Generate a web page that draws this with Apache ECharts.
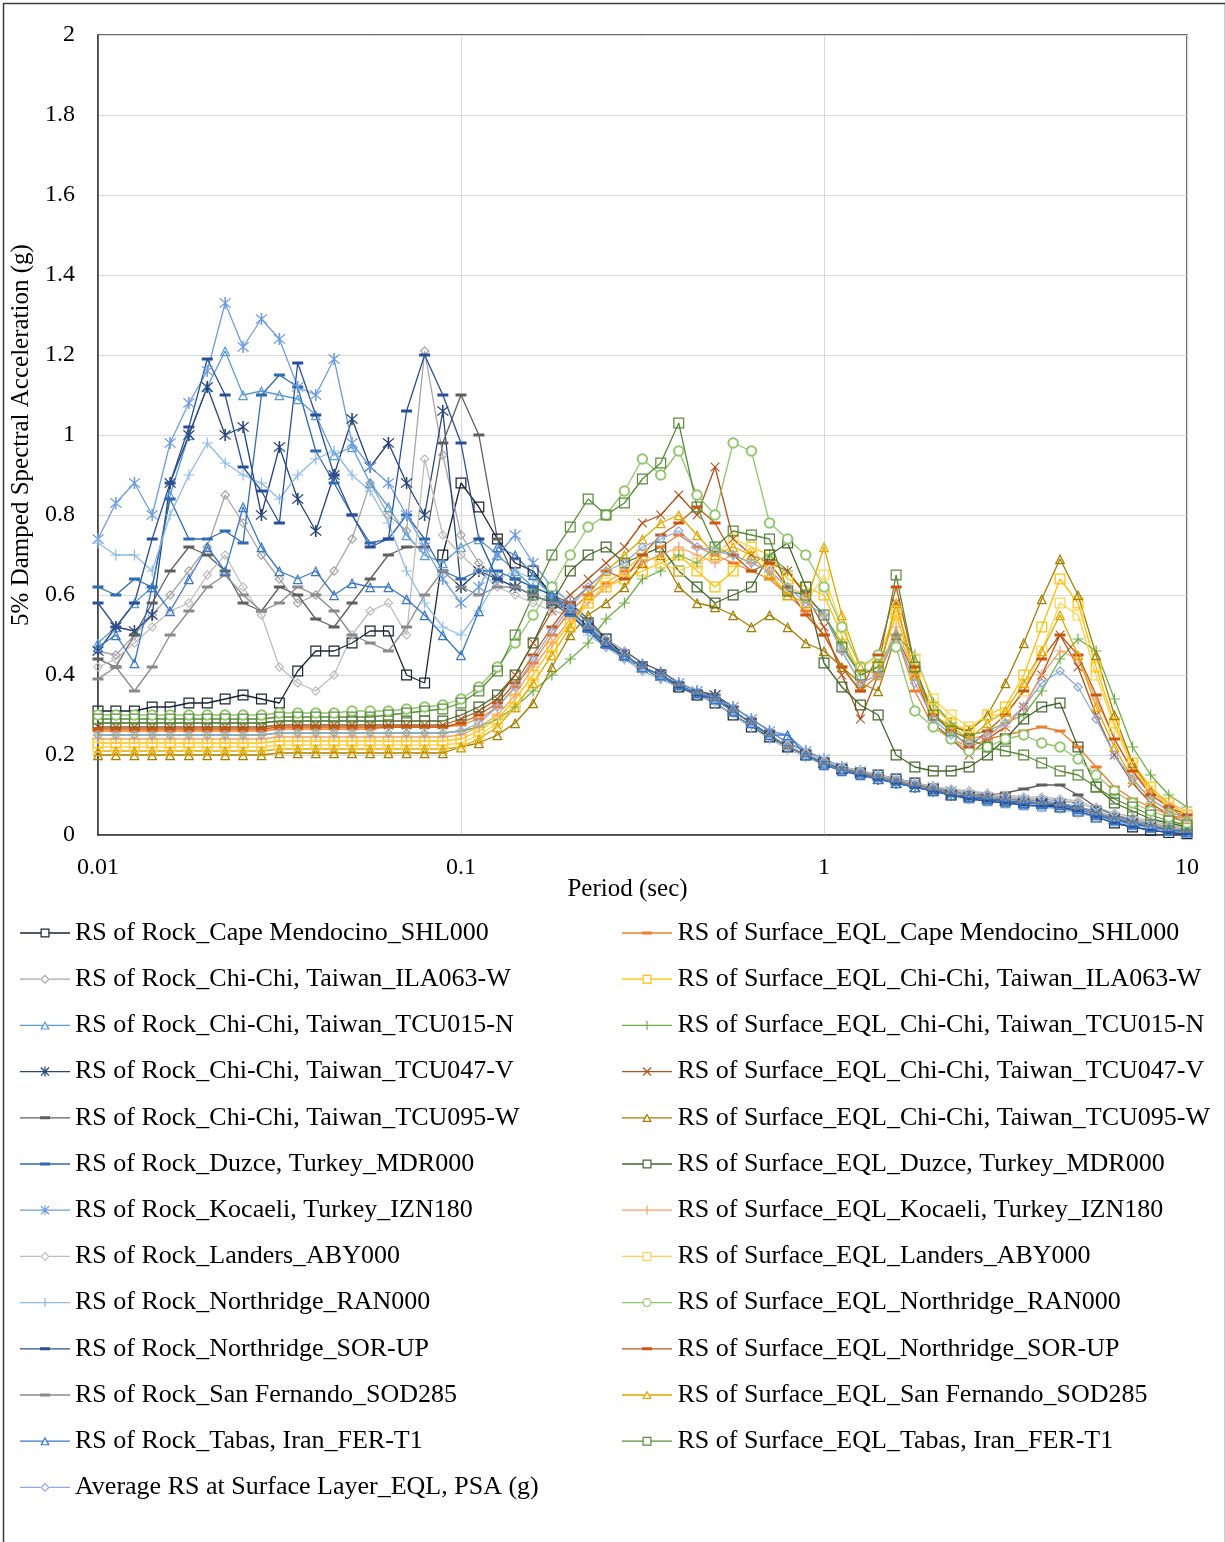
<!DOCTYPE html>
<html>
<head>
<meta charset="utf-8">
<script src="https://cdn.jsdelivr.net/npm/echarts@6/dist/echarts.min.js"></script>
<style>
html,body{margin:0;padding:0;background:#fff;}
#chart{width:1225px;height:1542px;}
</style>
</head>
<body>
<div id="chart"></div>
<script>
// ---------- DATA ----------
const periods = [0.01,0.0112,0.0126,0.0141,0.0158,0.0178,0.02,0.0224,0.0251,0.0282,0.0316,0.0355,0.0398,0.0447,0.0501,0.0562,0.0631,0.0708,0.0794,0.0891,0.1,0.112,0.126,0.141,0.158,0.178,0.2,0.224,0.251,0.282,0.316,0.355,0.398,0.447,0.501,0.562,0.631,0.708,0.794,0.891,1,1.12,1.26,1.41,1.58,1.78,2,2.24,2.51,2.82,3.16,3.55,3.98,4.47,5.01,5.62,6.31,7.08,7.94,8.91,10];

const xTickLabels = ['0.01','0.1','1','10'];
const yTickLabels = ['0','0.2','0.4','0.6','0.8','1','1.2','1.4','1.6','1.8','2'];

const rockNames = ['RS of Rock_Cape Mendocino_SHL000','RS of Rock_Chi-Chi, Taiwan_ILA063-W','RS of Rock_Chi-Chi, Taiwan_TCU015-N','RS of Rock_Chi-Chi, Taiwan_TCU047-V','RS of Rock_Chi-Chi, Taiwan_TCU095-W','RS of Rock_Duzce, Turkey_MDR000','RS of Rock_Kocaeli, Turkey_IZN180','RS of Rock_Landers_ABY000','RS of Rock_Northridge_RAN000','RS of Rock_Northridge_SOR-UP','RS of Rock_San Fernando_SOD285','RS of Rock_Tabas, Iran_FER-T1'];
const avgName = 'Average RS at Surface Layer_EQL, PSA (g)';
const surfNames = ['RS of Surface_EQL_Cape Mendocino_SHL000','RS of Surface_EQL_Chi-Chi, Taiwan_ILA063-W','RS of Surface_EQL_Chi-Chi, Taiwan_TCU015-N','RS of Surface_EQL_Chi-Chi, Taiwan_TCU047-V','RS of Surface_EQL_Chi-Chi, Taiwan_TCU095-W','RS of Surface_EQL_Duzce, Turkey_MDR000','RS of Surface_EQL_Kocaeli, Turkey_IZN180','RS of Surface_EQL_Landers_ABY000','RS of Surface_EQL_Northridge_RAN000','RS of Surface_EQL_Northridge_SOR-UP','RS of Surface_EQL_San Fernando_SOD285','RS of Surface_EQL_Tabas, Iran_FER-T1'];

// Rock outcrop spectra
const rockCape = [0.31,0.31,0.31,0.32,0.32,0.33,0.33,0.34,0.35,0.34,0.33,0.41,0.46,0.46,0.48,0.51,0.51,0.40,0.38,0.70,0.88,0.82,0.74,0.68,0.66,0.60,0.57,0.53,0.49,0.45,0.42,0.40,0.37,0.35,0.33,0.30,0.27,0.245,0.22,0.20,0.18,0.165,0.155,0.15,0.14,0.13,0.115,0.10,0.095,0.09,0.085,0.08,0.078,0.07,0.06,0.045,0.03,0.02,0.012,0.006,0.003];
const rockILA063 = [0.46,0.45,0.50,0.55,0.60,0.66,0.72,0.85,0.78,0.70,0.64,0.58,0.60,0.66,0.74,0.88,0.80,0.76,1.21,0.95,0.75,0.68,0.64,0.62,0.60,0.58,0.56,0.52,0.47,0.44,0.41,0.39,0.37,0.35,0.34,0.31,0.28,0.25,0.22,0.20,0.18,0.165,0.155,0.145,0.135,0.125,0.115,0.11,0.11,0.10,0.095,0.09,0.09,0.085,0.08,0.065,0.05,0.04,0.03,0.02,0.015];
const rockTCU015 = [0.48,0.52,0.58,0.62,0.85,1.00,1.12,1.21,1.10,1.11,1.10,1.09,1.05,0.95,0.97,0.88,0.82,0.75,0.70,0.68,0.72,0.74,0.70,0.66,0.62,0.60,0.57,0.53,0.49,0.46,0.43,0.41,0.38,0.36,0.35,0.32,0.29,0.26,0.25,0.21,0.18,0.17,0.155,0.145,0.135,0.12,0.11,0.10,0.092,0.085,0.08,0.075,0.072,0.068,0.06,0.045,0.035,0.025,0.018,0.01,0.006];
const rockTCU047 = [0.46,0.52,0.51,0.55,0.88,1.00,1.12,1.00,1.02,0.80,0.97,0.84,0.76,0.90,1.04,0.92,0.98,0.88,0.80,1.06,0.62,0.66,0.64,0.62,0.60,0.58,0.56,0.52,0.48,0.45,0.42,0.40,0.37,0.35,0.35,0.31,0.28,0.25,0.22,0.20,0.18,0.165,0.155,0.14,0.13,0.12,0.11,0.10,0.095,0.09,0.085,0.08,0.08,0.078,0.07,0.055,0.04,0.03,0.02,0.012,0.008];
const rockTCU095 = [0.44,0.42,0.50,0.58,0.66,0.72,0.70,0.66,0.58,0.56,0.62,0.60,0.54,0.52,0.58,0.64,0.70,0.72,0.72,0.98,1.10,1.00,0.74,0.64,0.62,0.60,0.58,0.54,0.49,0.46,0.43,0.41,0.38,0.36,0.35,0.32,0.29,0.26,0.23,0.21,0.19,0.17,0.16,0.15,0.14,0.13,0.12,0.11,0.10,0.10,0.105,0.115,0.125,0.125,0.10,0.07,0.05,0.035,0.025,0.015,0.01];
const rockDuzce = [0.62,0.60,0.64,0.62,0.84,0.74,0.74,0.76,0.73,1.10,1.15,1.12,0.96,0.88,0.80,0.73,0.74,0.80,0.74,0.66,0.64,0.66,0.66,0.64,0.62,0.60,0.55,0.51,0.48,0.44,0.42,0.39,0.37,0.355,0.33,0.30,0.275,0.25,0.22,0.20,0.18,0.16,0.15,0.14,0.13,0.12,0.11,0.10,0.095,0.09,0.085,0.082,0.08,0.075,0.065,0.05,0.038,0.028,0.02,0.012,0.008];
const rockKocaeli = [0.74,0.83,0.88,0.80,0.98,1.08,1.16,1.33,1.22,1.29,1.24,1.12,1.10,1.19,0.98,0.92,0.88,0.80,0.72,0.64,0.58,0.62,0.70,0.75,0.68,0.62,0.58,0.53,0.48,0.45,0.42,0.40,0.38,0.36,0.34,0.32,0.29,0.26,0.23,0.21,0.19,0.17,0.16,0.15,0.14,0.13,0.12,0.11,0.10,0.095,0.09,0.088,0.085,0.08,0.07,0.06,0.045,0.035,0.025,0.015,0.01];
const rockLanders = [0.42,0.44,0.48,0.52,0.56,0.58,0.65,0.70,0.62,0.55,0.42,0.38,0.36,0.40,0.50,0.56,0.58,0.50,0.94,0.75,0.70,0.66,0.62,0.60,0.58,0.56,0.55,0.52,0.49,0.46,0.41,0.39,0.37,0.35,0.335,0.31,0.28,0.25,0.225,0.205,0.185,0.17,0.16,0.15,0.14,0.13,0.12,0.115,0.11,0.105,0.10,0.095,0.095,0.09,0.085,0.07,0.055,0.045,0.035,0.025,0.018];
const rockRAN000 = [0.73,0.70,0.70,0.66,0.80,0.90,0.98,0.93,0.90,0.88,0.84,0.90,0.94,0.96,0.90,0.86,0.78,0.66,0.58,0.52,0.50,0.56,0.64,0.66,0.64,0.60,0.56,0.50,0.47,0.44,0.41,0.39,0.37,0.35,0.33,0.30,0.27,0.24,0.215,0.195,0.175,0.16,0.15,0.14,0.13,0.12,0.11,0.10,0.09,0.085,0.08,0.075,0.07,0.065,0.055,0.045,0.035,0.025,0.018,0.01,0.006];
const rockSORUP = [0.58,0.52,0.58,0.74,0.88,1.02,1.19,1.10,0.92,0.86,0.78,1.18,1.05,0.90,0.80,0.72,0.74,1.06,1.20,1.10,0.98,0.74,0.64,0.62,0.60,0.58,0.55,0.51,0.47,0.45,0.42,0.40,0.37,0.35,0.34,0.31,0.28,0.25,0.22,0.20,0.18,0.165,0.15,0.14,0.13,0.12,0.11,0.10,0.09,0.085,0.08,0.075,0.072,0.07,0.06,0.045,0.03,0.02,0.012,0.006,0.003];
const rockSanFernando = [0.39,0.42,0.36,0.42,0.50,0.56,0.62,0.65,0.60,0.56,0.58,0.62,0.60,0.56,0.50,0.48,0.46,0.52,0.60,0.66,0.62,0.60,0.62,0.62,0.60,0.58,0.56,0.52,0.48,0.45,0.42,0.40,0.375,0.355,0.34,0.31,0.28,0.25,0.22,0.20,0.18,0.165,0.155,0.145,0.135,0.125,0.115,0.105,0.10,0.095,0.09,0.085,0.08,0.075,0.068,0.055,0.042,0.032,0.024,0.016,0.01];
const rockTabas = [0.47,0.50,0.43,0.62,0.56,0.64,0.72,0.66,0.82,0.72,0.66,0.64,0.66,0.60,0.63,0.62,0.62,0.59,0.55,0.50,0.45,0.56,0.72,0.70,0.65,0.60,0.56,0.52,0.48,0.45,0.42,0.40,0.375,0.355,0.34,0.31,0.28,0.25,0.25,0.20,0.175,0.16,0.15,0.14,0.13,0.12,0.11,0.10,0.095,0.09,0.085,0.08,0.078,0.075,0.065,0.05,0.038,0.028,0.02,0.012,0.008];

// Surface (EQL) spectra
const surfCape = [0.26,0.26,0.26,0.26,0.26,0.26,0.26,0.26,0.26,0.26,0.265,0.265,0.265,0.265,0.265,0.265,0.27,0.27,0.27,0.27,0.275,0.29,0.32,0.37,0.43,0.50,0.56,0.60,0.63,0.66,0.70,0.72,0.75,0.72,0.70,0.68,0.66,0.64,0.60,0.56,0.50,0.42,0.36,0.40,0.50,0.36,0.27,0.24,0.22,0.24,0.25,0.26,0.27,0.26,0.22,0.17,0.12,0.09,0.07,0.05,0.04];
const surfILA063 = [0.23,0.23,0.23,0.23,0.23,0.23,0.23,0.23,0.23,0.23,0.235,0.235,0.235,0.235,0.235,0.235,0.235,0.235,0.235,0.235,0.24,0.26,0.29,0.34,0.40,0.47,0.53,0.58,0.62,0.64,0.66,0.68,0.70,0.66,0.62,0.66,0.72,0.70,0.64,0.62,0.60,0.50,0.40,0.42,0.55,0.40,0.32,0.28,0.26,0.30,0.32,0.40,0.52,0.64,0.58,0.42,0.28,0.18,0.12,0.08,0.05];
const surfTCU015 = [0.25,0.25,0.25,0.25,0.25,0.25,0.25,0.25,0.25,0.25,0.255,0.255,0.255,0.255,0.255,0.255,0.255,0.255,0.255,0.255,0.26,0.27,0.29,0.32,0.36,0.40,0.44,0.48,0.54,0.58,0.64,0.66,0.70,0.68,0.72,0.70,0.68,0.70,0.66,0.60,0.55,0.48,0.40,0.42,0.50,0.45,0.33,0.28,0.25,0.26,0.28,0.30,0.36,0.44,0.49,0.46,0.34,0.22,0.15,0.10,0.07];
const surfTCU047 = [0.27,0.27,0.27,0.27,0.27,0.27,0.27,0.27,0.27,0.27,0.275,0.275,0.275,0.275,0.275,0.275,0.275,0.275,0.275,0.275,0.29,0.31,0.34,0.40,0.48,0.56,0.60,0.64,0.68,0.72,0.78,0.80,0.85,0.80,0.92,0.74,0.70,0.68,0.66,0.60,0.52,0.40,0.29,0.40,0.58,0.40,0.28,0.24,0.20,0.24,0.27,0.32,0.40,0.50,0.42,0.30,0.20,0.13,0.08,0.05,0.03];
const surfTCU095 = [0.20,0.20,0.20,0.20,0.20,0.20,0.20,0.20,0.20,0.20,0.205,0.205,0.205,0.205,0.205,0.205,0.205,0.205,0.205,0.205,0.22,0.23,0.25,0.28,0.33,0.42,0.50,0.55,0.58,0.62,0.68,0.70,0.62,0.58,0.57,0.55,0.52,0.55,0.52,0.48,0.46,0.42,0.38,0.36,0.50,0.40,0.30,0.27,0.26,0.30,0.38,0.48,0.59,0.69,0.60,0.45,0.30,0.18,0.11,0.07,0.04];
const surfDuzce = [0.28,0.28,0.28,0.28,0.28,0.28,0.28,0.28,0.28,0.28,0.285,0.285,0.285,0.285,0.285,0.285,0.285,0.285,0.285,0.285,0.30,0.32,0.35,0.40,0.48,0.58,0.66,0.70,0.72,0.68,0.70,0.72,0.66,0.62,0.58,0.60,0.62,0.70,0.73,0.62,0.43,0.37,0.325,0.30,0.20,0.17,0.16,0.16,0.17,0.20,0.24,0.29,0.32,0.33,0.22,0.12,0.08,0.06,0.04,0.03,0.02];
const surfKocaeli = [0.24,0.24,0.24,0.24,0.24,0.24,0.24,0.24,0.24,0.24,0.245,0.245,0.245,0.245,0.245,0.245,0.245,0.245,0.245,0.245,0.25,0.27,0.30,0.35,0.42,0.48,0.54,0.58,0.62,0.65,0.68,0.70,0.72,0.70,0.68,0.70,0.68,0.66,0.62,0.60,0.55,0.46,0.38,0.40,0.52,0.40,0.30,0.26,0.24,0.25,0.27,0.32,0.40,0.46,0.44,0.34,0.24,0.16,0.11,0.08,0.06];
const surfLanders = [0.22,0.22,0.22,0.22,0.22,0.22,0.22,0.22,0.22,0.22,0.225,0.225,0.225,0.225,0.225,0.225,0.225,0.225,0.225,0.225,0.23,0.25,0.28,0.32,0.38,0.45,0.52,0.58,0.63,0.66,0.70,0.68,0.66,0.68,0.70,0.74,0.72,0.66,0.60,0.58,0.65,0.52,0.42,0.44,0.56,0.44,0.34,0.30,0.27,0.30,0.30,0.36,0.46,0.58,0.55,0.40,0.27,0.17,0.11,0.07,0.05];
const surfRAN000 = [0.30,0.30,0.30,0.30,0.30,0.30,0.30,0.30,0.30,0.30,0.305,0.305,0.305,0.305,0.31,0.31,0.31,0.315,0.32,0.325,0.34,0.37,0.42,0.48,0.55,0.62,0.70,0.77,0.80,0.86,0.94,0.90,0.96,0.85,0.80,0.98,0.96,0.78,0.74,0.70,0.62,0.52,0.42,0.45,0.47,0.31,0.27,0.24,0.21,0.22,0.24,0.25,0.23,0.22,0.19,0.15,0.11,0.08,0.06,0.045,0.03];
const surfSORUP = [0.265,0.265,0.265,0.265,0.265,0.265,0.265,0.265,0.265,0.265,0.27,0.27,0.27,0.27,0.27,0.27,0.27,0.27,0.27,0.27,0.28,0.30,0.33,0.38,0.45,0.52,0.58,0.62,0.66,0.64,0.70,0.75,0.78,0.82,0.78,0.70,0.66,0.68,0.62,0.55,0.50,0.42,0.36,0.45,0.62,0.42,0.30,0.26,0.22,0.26,0.30,0.36,0.44,0.50,0.45,0.35,0.24,0.16,0.10,0.07,0.05];
const surfSanFernando = [0.21,0.21,0.21,0.21,0.21,0.21,0.21,0.21,0.21,0.21,0.215,0.215,0.215,0.215,0.215,0.215,0.215,0.215,0.215,0.215,0.22,0.24,0.27,0.32,0.38,0.45,0.52,0.60,0.66,0.70,0.74,0.78,0.80,0.75,0.70,0.72,0.70,0.65,0.60,0.58,0.72,0.55,0.42,0.40,0.58,0.40,0.30,0.27,0.24,0.28,0.31,0.38,0.46,0.55,0.45,0.32,0.22,0.14,0.09,0.06,0.04];
const surfTabas = [0.29,0.29,0.29,0.29,0.29,0.29,0.29,0.29,0.29,0.29,0.295,0.295,0.295,0.295,0.295,0.295,0.30,0.305,0.31,0.315,0.33,0.36,0.41,0.50,0.60,0.70,0.77,0.84,0.80,0.83,0.89,0.93,1.03,0.82,0.72,0.76,0.75,0.74,0.61,0.60,0.55,0.47,0.40,0.42,0.65,0.42,0.30,0.26,0.24,0.22,0.21,0.20,0.18,0.16,0.15,0.12,0.09,0.07,0.05,0.035,0.025];

const surfAverage = [0.25,0.25,0.25,0.25,0.25,0.25,0.25,0.25,0.25,0.25,0.255,0.255,0.255,0.255,0.255,0.255,0.255,0.255,0.255,0.255,0.26,0.28,0.32,0.37,0.44,0.51,0.57,0.62,0.66,0.68,0.72,0.74,0.76,0.72,0.71,0.70,0.68,0.66,0.62,0.58,0.55,0.46,0.38,0.40,0.50,0.38,0.29,0.25,0.23,0.25,0.28,0.32,0.38,0.41,0.37,0.29,0.20,0.14,0.09,0.06,0.04];

const rockValues = [rockCape,rockILA063,rockTCU015,rockTCU047,rockTCU095,rockDuzce,rockKocaeli,rockLanders,rockRAN000,rockSORUP,rockSanFernando,rockTabas];
const surfValues = [surfCape,surfILA063,surfTCU015,surfTCU047,surfTCU095,surfDuzce,surfKocaeli,surfLanders,surfRAN000,surfSORUP,surfSanFernando,surfTabas];

// ---------- STYLES ----------
const SYM = {
  sq:   'path://M0,0H10V10H0Z M1.1,1.1V8.9H8.9V1.1Z',
  tri:  'path://M5,0L10,9H0Z M5,2.3L1.9,7.9H8.1Z',
  dia:  'path://M5,0L10,5L5,10L0,5Z M5,1.7L1.7,5L5,8.3L8.3,5Z',
  plus: 'path://M4.45,0H5.55V4.45H10V5.55H5.55V10H4.45V5.55H0V4.45H4.45Z',
  x:    'path://M0.8,0L5,4.2L9.2,0L10,0.8L5.8,5L10,9.2L9.2,10L5,5.8L0.8,10L0,9.2L4.2,5L0,0.8Z',
  star: 'path://M4.45,0H5.55V10H4.45Z M0.8,1.5L1.5,0.8L9.2,8.5L8.5,9.2Z M8.5,0.8L9.2,1.5L1.5,9.2L0.8,8.5Z',
  dash: 'path://M0,0H10V2.8H0Z',
  circ: 'emptyCircle'
};
const SYM_SIZE = {sq: 11, tri: 10.5, dia: 10, plus: 11, x: 9.5, star: 12, dash: [11, 3], circ: 9.5};

// legend icons: line + marker, drawn in a 50 x 11 box
const LG_DOTS = 'M0,0H0.04V0.04H0Z M0,10.96H0.04V11H0Z';
const LG_FULL = 'M0,4.85H50V6.15H0Z';
function lgLine(a, b) { return 'M0,4.85H' + a + 'V6.15H0Z M' + b + ',4.85H50V6.15H' + b + 'Z'; }
const LG_DIAG = 'M20.5,1.9L21.4,1L29.5,9.1L28.6,10Z M28.6,1L29.5,1.9L21.4,10L20.5,9.1Z';
const LEGEND_ICON = {
  sq:   'path://' + LG_DOTS + ' ' + lgLine(20.5, 29.5) + ' M20.5,1H29.5V10H20.5Z M21.7,2.2V8.8H28.3V2.2Z',
  tri:  'path://' + LG_DOTS + ' ' + lgLine(22.6, 27.4) + ' M25,1L29.8,9.6H20.2Z M25,3.5L22.3,8.5H27.7Z',
  dia:  'path://' + LG_DOTS + ' ' + lgLine(20.3, 29.7) + ' M25,0.8L29.7,5.5L25,10.2L20.3,5.5Z M25,2.5L22,5.5L25,8.5L28,5.5Z',
  circ: 'path://' + LG_DOTS + ' ' + lgLine(20.5, 29.5) + ' M25,1A4.5,4.5,0,1,1,24.99,1Z M25,2.2A3.3,3.3,0,1,0,25.01,2.2Z',
  plus: 'path://' + LG_DOTS + ' ' + LG_FULL + ' M24.4,1H25.6V10H24.4Z',
  x:    'path://' + LG_DOTS + ' ' + LG_FULL + ' ' + LG_DIAG,
  star: 'path://' + LG_DOTS + ' ' + LG_FULL + ' M24.4,0.5H25.6V10.5H24.4Z ' + LG_DIAG,
  dash: 'path://' + LG_DOTS + ' ' + LG_FULL + ' M20,4H30V7H20Z'
};

const rockStyle = [
  {c:'#1c2433', s:'sq'},
  {c:'#a5a5a5', s:'dia'},
  {c:'#5b9bd5', s:'tri'},
  {c:'#264478', s:'star'},
  {c:'#5f5f5f', s:'dash'},
  {c:'#2e6bb0', s:'dash'},
  {c:'#6f9ce0', s:'star'},
  {c:'#bdbdbd', s:'dia'},
  {c:'#8dbbe6', s:'plus'},
  {c:'#2a4f96', s:'dash'},
  {c:'#8a8a8a', s:'dash'},
  {c:'#3a78c6', s:'tri'}
];
const avgStyle = {c:'#8fa8e0', s:'dia'};
const surfStyle = [
  {c:'#ed7d31', s:'dash'},
  {c:'#ffc000', s:'sq'},
  {c:'#70ad47', s:'plus'},
  {c:'#b4501a', s:'x'},
  {c:'#a67c00', s:'tri'},
  {c:'#43682b', s:'sq'},
  {c:'#f4a06a', s:'plus'},
  {c:'#ffd24d', s:'sq'},
  {c:'#91c66e', s:'circ'},
  {c:'#c65911', s:'dash'},
  {c:'#e0a800', s:'tri'},
  {c:'#5a8a3a', s:'sq'}
];

function makeSeries(name, vals, st) {
  const isCirc = st.s === 'circ';
  return {
    name: name,
    type: 'line',
    data: periods.map((p, i) => [p, vals[i]]),
    symbol: SYM[st.s],
    symbolSize: SYM_SIZE[st.s],
    showAllSymbol: true,
    smooth: false,
    lineStyle: {color: st.c, width: 1.3},
    itemStyle: {color: st.c, borderColor: st.c, borderWidth: isCirc ? 1.1 : 0},
    emphasis: {disabled: true},
    animation: false
  };
}

const series = [];
for (let k = 0; k < 12; k++) {
  series.push(makeSeries(rockNames[k], rockValues[k], rockStyle[k]));
  series.push(makeSeries(surfNames[k], surfValues[k], surfStyle[k]));
}
series.push(makeSeries(avgName, surfAverage, avgStyle));

const leftLegendData = rockNames.map((n, k) => ({name: n, icon: LEGEND_ICON[rockStyle[k].s]}))
  .concat([{name: avgName, icon: LEGEND_ICON[avgStyle.s]}]);
const rightLegendData = surfNames.map((n, k) => ({name: n, icon: LEGEND_ICON[surfStyle[k].s]}));

const FONT = 'Liberation Serif';
const legendText = {fontFamily: FONT, fontSize: 26, color: '#000', lineHeight: 28};

const option = {
  backgroundColor: '#fff',
  animation: false,
  graphic: [{
    type: 'rect', left: 1, top: 1,
    shape: {width: 1222, height: 1560},
    style: {fill: 'none', stroke: '#3c3c3c', lineWidth: 1.5},
    silent: true
  }],
  grid: {left: 98, right: 38, top: 35, bottom: 707, show: true, borderColor: '#3c3c3c', borderWidth: 1.5},
  xAxis: {
    type: 'log', logBase: 10, min: 0.01, max: 10,
    name: 'Period (sec)', nameLocation: 'middle', nameGap: 42, nameMoveOverlap: false,
    nameTextStyle: {fontFamily: FONT, fontSize: 25, color: '#000', padding: [0, 30, 0, 0]},
    axisLine: {show: true, lineStyle: {color: '#3c3c3c', width: 1.5}},
    axisTick: {show: false},
    axisLabel: {fontFamily: FONT, fontSize: 24, color: '#000', margin: 21,
      formatter: v => xTickLabels[Math.round(Math.log10(v)) + 2]},
    splitLine: {show: true, lineStyle: {color: '#d9d9d9', width: 1}},
    minorSplitLine: {show: false}
  },
  yAxis: {
    type: 'value', min: 0, max: 2, interval: 0.2,
    name: '5% Damped Spectral Acceleration (g)', nameLocation: 'middle', nameGap: 64, nameMoveOverlap: false,
    nameTextStyle: {fontFamily: FONT, fontSize: 25, color: '#000'},
    axisLine: {show: true, lineStyle: {color: '#3c3c3c', width: 1.5}},
    axisTick: {show: false},
    axisLabel: {fontFamily: FONT, fontSize: 24, color: '#000', margin: 23,
      formatter: v => yTickLabels[Math.round(v / 0.2)]},
    splitLine: {show: true, lineStyle: {color: '#d9d9d9', width: 1}}
  },
  legend: [
    {data: leftLegendData, orient: 'vertical', left: 20, top: 919, padding: 0,
     itemWidth: 50, itemHeight: 11, itemGap: 18.2, selectedMode: false,
     itemStyle: {borderWidth: 0}, textStyle: legendText},
    {data: rightLegendData, orient: 'vertical', left: 622, top: 919, padding: 0,
     itemWidth: 51, itemHeight: 11, itemGap: 18.2, selectedMode: false,
     itemStyle: {borderWidth: 0}, textStyle: legendText}
  ],
  series: series
};

const chart = echarts.init(document.getElementById('chart'), null, {renderer: 'canvas'});
chart.setOption(option);
</script>
</body>
</html>
